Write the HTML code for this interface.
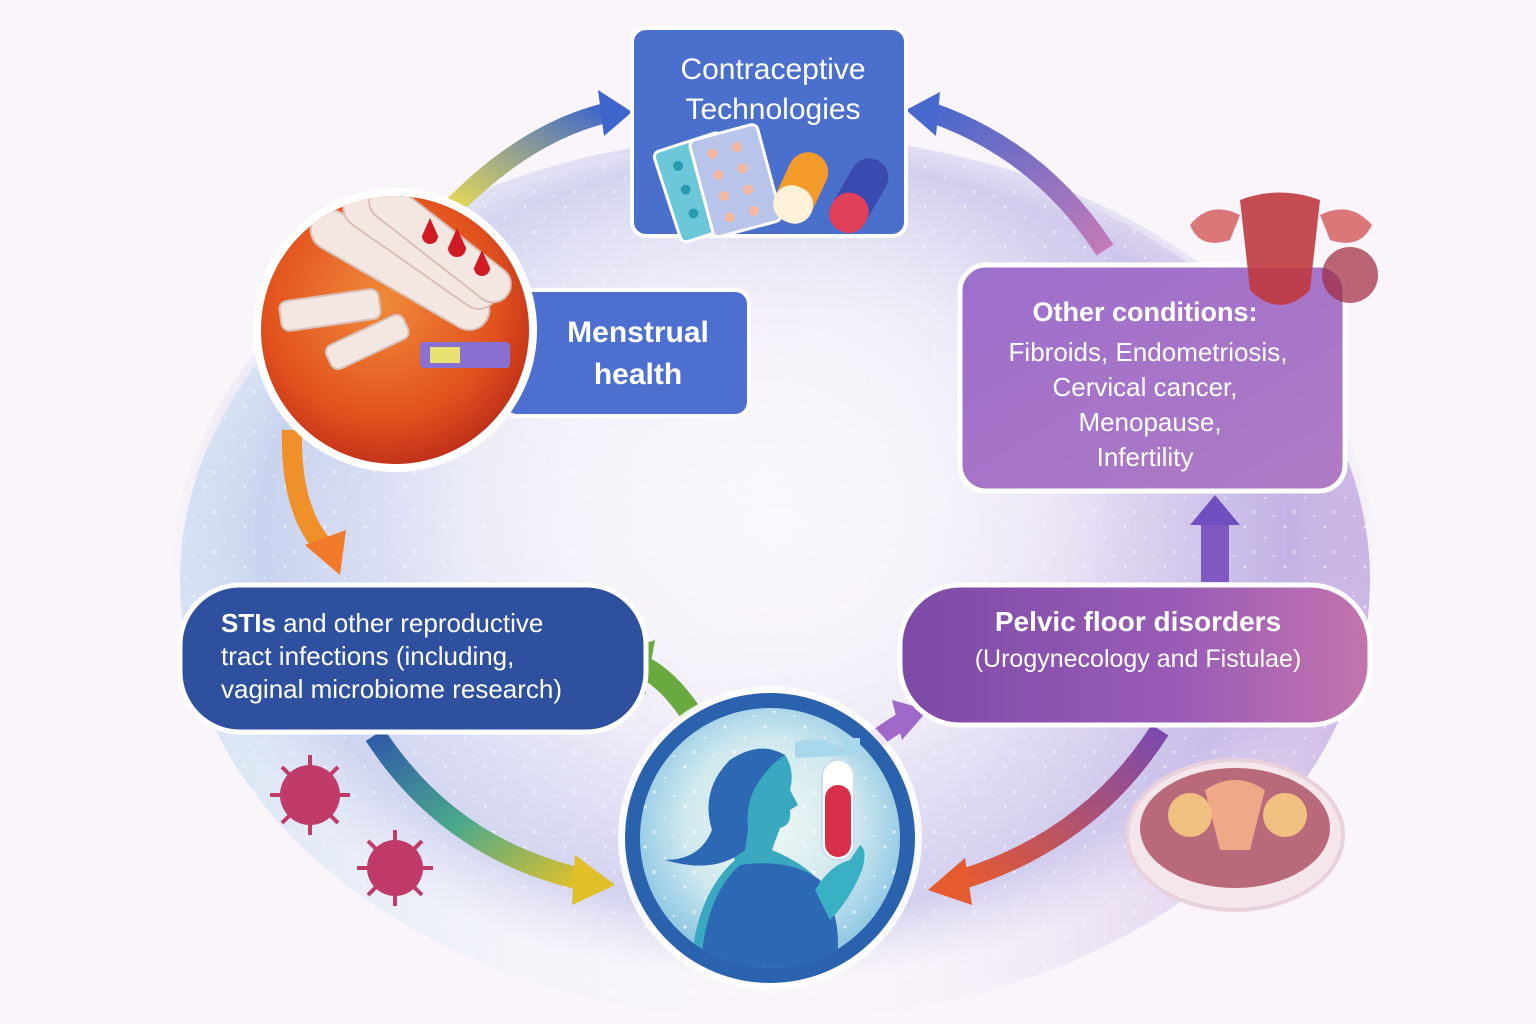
<!DOCTYPE html>
<html><head><meta charset="utf-8"><style>
html,body{margin:0;padding:0;width:1536px;height:1024px;overflow:hidden;background:#f9f5fa;}
svg{display:block}
text{font-family:"Liberation Sans","DejaVu Sans",sans-serif;fill:#fff}
</style></head><body>
<svg width="1536" height="1024" viewBox="0 0 1536 1024" xmlns="http://www.w3.org/2000/svg">
<defs>
<radialGradient id="bg" cx="0.5" cy="0.45" r="0.5">
<stop offset="0" stop-color="#f8f5fb"/>
<stop offset="0.5" stop-color="#ece8f7"/>
<stop offset="0.85" stop-color="#cfcdee"/>
<stop offset="1" stop-color="#e2dcf2" stop-opacity="0"/>
</radialGradient>
<radialGradient id="inner" cx="0.5" cy="0.5" r="0.5">
<stop offset="0" stop-color="#fbf9fc" stop-opacity="0.8"/>
<stop offset="0.6" stop-color="#fbf9fc" stop-opacity="0.4"/>
<stop offset="1" stop-color="#fbf9fc" stop-opacity="0"/>
</radialGradient>
<linearGradient id="bgl" x1="0" y1="0" x2="1" y2="0">
<stop offset="0" stop-color="#b9d4ee" stop-opacity="0.55"/>
<stop offset="0.5" stop-color="#ffffff" stop-opacity="0"/>
<stop offset="1" stop-color="#a784d4" stop-opacity="0.55"/>
</linearGradient>
<pattern id="dots" width="40" height="40" patternUnits="userSpaceOnUse">
<circle cx="5" cy="7" r="1.6" fill="#fff" opacity="0.8"/><circle cx="25" cy="18" r="1.2" fill="#fff" opacity="0.7"/><circle cx="14" cy="32" r="2" fill="#fff" opacity="0.6"/><circle cx="34" cy="36" r="1" fill="#fff"/>
</pattern>
<radialGradient id="mens" cx="0.45" cy="0.4" r="0.6">
<stop offset="0" stop-color="#f08a3a"/><stop offset="0.7" stop-color="#e2521e"/><stop offset="1" stop-color="#c0301a"/>
</radialGradient>
<radialGradient id="lab" cx="0.5" cy="0.45" r="0.55">
<stop offset="0" stop-color="#f0f8f4"/><stop offset="0.6" stop-color="#cfe8ee"/><stop offset="1" stop-color="#8cc6e4"/>
</radialGradient>
<linearGradient id="pelv" x1="0" y1="0" x2="1" y2="0">
<stop offset="0" stop-color="#7c4aa6"/><stop offset="0.6" stop-color="#9a5cb6"/><stop offset="1" stop-color="#c474ac"/>
</linearGradient>
<linearGradient id="oth" x1="0" y1="0" x2="1" y2="1">
<stop offset="0" stop-color="#9c6fcc"/><stop offset="1" stop-color="#b07ac4"/>
</linearGradient>
<linearGradient id="a1" x1="0" y1="1" x2="1" y2="0"><stop offset="0" stop-color="#e2d85a"/><stop offset="1" stop-color="#3f66cc"/></linearGradient>
<linearGradient id="a2" x1="0" y1="0" x2="1" y2="1"><stop offset="0" stop-color="#4768cc"/><stop offset="1" stop-color="#c47ab8"/></linearGradient>
<linearGradient id="a3" x1="0" y1="0" x2="1" y2="1"><stop offset="0" stop-color="#2f5aa8"/><stop offset="0.5" stop-color="#4aa88c"/><stop offset="1" stop-color="#e0c02a"/></linearGradient>
<linearGradient id="a4" x1="1" y1="0" x2="0" y2="1"><stop offset="0" stop-color="#7a4ab0"/><stop offset="1" stop-color="#e65a30"/></linearGradient>
<clipPath id="cm"><circle cx="395" cy="330" r="134"/></clipPath>
<clipPath id="cl"><circle cx="770" cy="838" r="130"/></clipPath>
</defs>

<ellipse cx="775" cy="580" rx="605" ry="445" fill="url(#bg)"/>
<ellipse cx="775" cy="580" rx="595" ry="440" fill="url(#bgl)"/>
<ellipse cx="775" cy="580" rx="595" ry="440" fill="url(#dots)" opacity="0.6"/>
<ellipse cx="760" cy="470" rx="380" ry="320" fill="url(#inner)"/>

<!-- arrows -->
<path d="M455 205 Q530 130 610 112" fill="none" stroke="url(#a1)" stroke-width="20"/>
<polygon points="632,112 598,90 604,136" fill="#3f66cc"/>
<path d="M930 112 Q1040 150 1105 250" fill="none" stroke="url(#a2)" stroke-width="20"/>
<polygon points="906,110 940,92 936,136" fill="#4768cc"/>
<path d="M292 430 Q290 510 325 548" fill="none" stroke="#f0902a" stroke-width="20"/>
<polygon points="340,575 305,545 346,530" fill="#f07a2a"/>
<path d="M375 735 Q450 850 585 880" fill="none" stroke="url(#a3)" stroke-width="22"/>
<polygon points="615,885 575,855 572,905" fill="#e0c02a"/>
<path d="M690 712 Q668 680 645 668" fill="none" stroke="#6aa840" stroke-width="22"/>
<polygon points="605,658 655,640 645,695" fill="#6aa840"/>
<path d="M868 745 Q890 728 905 720" fill="none" stroke="#a068c8" stroke-width="18"/>
<polygon points="928,710 892,700 902,740" fill="#a068c8"/>
<path d="M1160 730 Q1090 840 960 880" fill="none" stroke="url(#a4)" stroke-width="20"/>
<polygon points="928,890 965,858 972,905" fill="#e65a30"/>
<rect x="1201" y="520" width="28" height="62" fill="#8058c0"/>
<polygon points="1215,495 1190,525 1240,525" fill="#7050c0"/>

<!-- contraceptive -->
<rect x="632" y="28" width="274" height="208" rx="14" fill="#4a6fcc" stroke="#fff" stroke-width="4"/>
<text x="773" y="79" font-size="30" text-anchor="middle">Contraceptive</text>
<text x="773" y="119" font-size="30" text-anchor="middle">Technologies</text>
<g transform="rotate(-18 700 185)"><rect x="665" y="140" width="70" height="95" rx="6" fill="#6cc8d8" stroke="#fff" stroke-width="3"/>
<g fill="#2a9ab0"><circle cx="685" cy="160" r="5"/><circle cx="685" cy="185" r="5"/><circle cx="685" cy="210" r="5"/></g></g>
<g transform="rotate(-15 730 180)"><rect x="700" y="132" width="70" height="100" rx="6" fill="#b8c4ea" stroke="#fff" stroke-width="3"/>
<g fill="#f4b8a0"><circle cx="720" cy="150" r="5"/><circle cx="745" cy="150" r="5"/><circle cx="720" cy="172" r="5"/><circle cx="745" cy="172" r="5"/><circle cx="720" cy="194" r="5"/><circle cx="745" cy="194" r="5"/><circle cx="720" cy="216" r="5"/><circle cx="745" cy="216" r="5"/></g></g>
<g transform="rotate(25 800 185)"><rect x="782" y="150" width="40" height="74" rx="20" fill="#f39a2a"/><rect x="782" y="187" width="40" height="37" rx="18" fill="#fff0d8"/></g>
<g transform="rotate(30 858 195)"><rect x="840" y="155" width="38" height="80" rx="19" fill="#3a4ab0"/><rect x="840" y="195" width="38" height="40" rx="18" fill="#e0405a"/></g>

<!-- menstrual -->
<rect x="503" y="290" width="246" height="126" rx="14" fill="#4c6fd0" stroke="#fff" stroke-width="4"/>
<text x="638" y="342" font-size="30" font-weight="bold" text-anchor="middle">Menstrual</text>
<text x="638" y="384" font-size="30" font-weight="bold" text-anchor="middle">health</text>
<circle cx="395" cy="330" r="138" fill="url(#mens)" stroke="#fff" stroke-width="8"/>
<g clip-path="url(#cm)">
<g fill="#f4e6e0" stroke="#d8c0b8" stroke-width="2">
<rect x="300" y="250" width="200" height="40" rx="20" transform="rotate(30 400 270)"/>
<rect x="330" y="230" width="180" height="38" rx="19" transform="rotate(35 420 250)"/>
<rect x="355" y="225" width="170" height="36" rx="18" transform="rotate(38 440 243)"/>
<rect x="280" y="295" width="100" height="30" rx="8" transform="rotate(-8 330 310)"/>
<rect x="325" y="330" width="85" height="26" rx="8" transform="rotate(-25 365 343)"/>
</g>
<rect x="420" y="342" width="90" height="26" rx="4" fill="#8a70d0"/>
<rect x="430" y="347" width="30" height="16" fill="#e8e070"/>
</g>
<g fill="#d01a24"><path d="M430 218 L422 236 A8 8 0 1 0 438 236 Z"/><path d="M457 228 L448 248 A9 9 0 1 0 466 248 Z"/><path d="M482 250 L474 268 A8 8 0 1 0 490 268 Z"/></g>

<!-- other conditions -->
<rect x="960" y="265" width="385" height="226" rx="26" fill="url(#oth)" stroke="#fff" stroke-width="5"/>
<text x="1145" y="321" font-size="27" font-weight="bold" text-anchor="middle">Other conditions:</text>
<text x="1148" y="361" font-size="26" text-anchor="middle">Fibroids, Endometriosis,</text>
<text x="1145" y="396" font-size="26" text-anchor="middle">Cervical cancer,</text>
<text x="1150" y="431" font-size="26" text-anchor="middle">Menopause,</text>
<text x="1145" y="466" font-size="26" text-anchor="middle">Infertility</text>
<g opacity="0.9">
<path d="M1240 200 Q1280 185 1320 200 L1310 290 Q1280 320 1250 290 Z" fill="#c03a40"/>
<path d="M1240 215 Q1210 200 1190 225 Q1200 250 1230 240 Z" fill="#d86a6a"/>
<path d="M1320 215 Q1350 200 1372 225 Q1360 250 1330 240 Z" fill="#d86a6a"/>
<circle cx="1350" cy="275" r="28" fill="#a02a40" opacity="0.8"/>
</g>

<!-- STIs -->
<rect x="180" y="585" width="466" height="147" rx="60" fill="#2f509e" stroke="#fff" stroke-width="5"/>
<text x="221" y="632" font-size="26"><tspan font-weight="bold">STIs</tspan> and other reproductive</text>
<text x="221" y="665" font-size="26">tract infections (including,</text>
<text x="221" y="698" font-size="26">vaginal microbiome research)</text>
<g fill="#c03a6a"><circle cx="310" cy="795" r="30"/><circle cx="395" cy="868" r="28"/></g>
<g stroke="#c03a6a" stroke-width="4"><path d="M310 755 V835 M270 795 H350 M282 767 L338 823 M338 767 L282 823"/><path d="M395 830 V906 M357 868 H433 M368 841 L422 895 M422 841 L368 895"/></g>

<!-- pelvic -->
<rect x="900" y="585" width="470" height="140" rx="60" fill="url(#pelv)" stroke="#fff" stroke-width="5"/>
<text x="1138" y="631" font-size="28" font-weight="bold" text-anchor="middle">Pelvic floor disorders</text>
<text x="1138" y="667" font-size="25" text-anchor="middle">(Urogynecology and Fistulae)</text>
<ellipse cx="1235" cy="835" rx="108" ry="75" fill="#f4e6ea" stroke="#e8d0dc" stroke-width="4"/>
<ellipse cx="1235" cy="828" rx="95" ry="60" fill="#b86a7a"/>
<path d="M1205 790 Q1235 770 1265 790 L1250 850 L1220 850 Z" fill="#f0a888"/>
<circle cx="1190" cy="815" r="22" fill="#f0c080"/><circle cx="1285" cy="815" r="22" fill="#f0c080"/>

<!-- lab circle -->
<circle cx="770" cy="838" r="152" fill="#fff" opacity="0.85"/>
<circle cx="770" cy="838" r="145" fill="#2a62ae"/>
<circle cx="770" cy="838" r="130" fill="url(#lab)"/>
<g clip-path="url(#cl)">
<circle cx="770" cy="838" r="130" fill="url(#dots)" opacity="0.8"/>
<path d="M665 860 Q700 860 712 830 Q700 790 730 760 Q760 740 785 755 Q795 770 790 790 L798 805 L790 810 Q792 825 780 828 L772 850 Q820 870 830 900 L830 990 L690 990 Q690 900 735 860 L725 840 Q705 870 665 860 Z" fill="#3aa8c0"/>
<path d="M665 860 Q700 860 712 830 Q700 790 730 760 Q760 740 785 755 Q770 765 760 780 Q745 800 748 830 L745 850 Q715 875 665 860 Z" fill="#2c68b4"/>
<path d="M700 990 Q700 900 740 865 Q790 858 820 880 Q850 930 830 990 Z" fill="#2c68b4"/>
<path d="M815 890 Q830 865 850 860 L860 845 Q868 850 862 870 Q850 900 830 920 Z" fill="#3ab0c4"/>
</g>
<path d="M795 742 Q820 735 835 745 L845 748 L845 738 L860 738 L860 755 L795 758 Z" fill="#a8d8ec"/>
<rect x="822" y="760" width="32" height="100" rx="16" fill="#fff" stroke="#cde" stroke-width="2"/>
<rect x="825" y="785" width="26" height="72" rx="13" fill="#d8304a"/>
</svg>
</body></html>
